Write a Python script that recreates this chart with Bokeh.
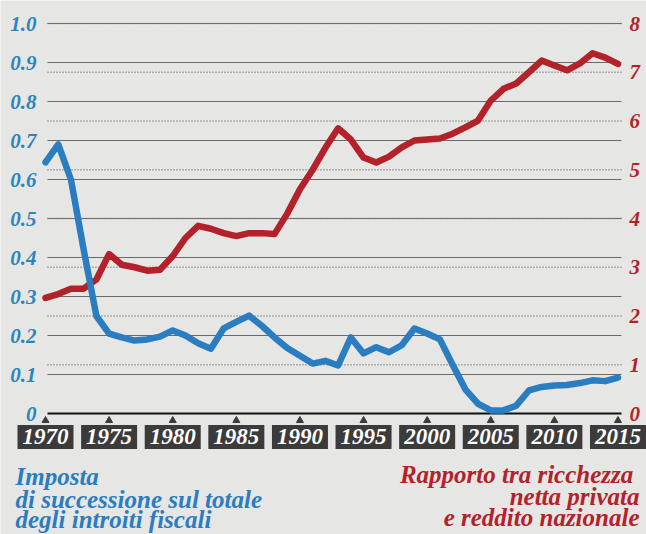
from bokeh.plotting import figure
from bokeh.models import Range1d, LinearAxis, FixedTicker, Label
from bokeh.embed import file_html
from bokeh.resources import INLINE

# ---------------- data ----------------
years = list(range(1970, 2016))
inheritance_tax_share = [
    0.644, 0.69, 0.60, 0.42, 0.25, 0.205, 0.195, 0.187, 0.19, 0.197,
    0.213, 0.20, 0.18, 0.166, 0.218, 0.235, 0.251, 0.225, 0.195, 0.168,
    0.148, 0.128, 0.135, 0.123, 0.195, 0.154, 0.17, 0.157, 0.175, 0.218,
    0.205, 0.19, 0.125, 0.062, 0.025, 0.008, 0.008, 0.02, 0.059, 0.068,
    0.072, 0.073, 0.078, 0.085, 0.083, 0.092,
]
wealth_income_ratio = [
    2.37, 2.45, 2.56, 2.56, 2.75, 3.27, 3.05, 3.0, 2.93, 2.95,
    3.23, 3.6, 3.85, 3.79, 3.7, 3.64, 3.7, 3.7, 3.68, 4.1,
    4.6, 5.0, 5.45, 5.85, 5.62, 5.25, 5.15, 5.27, 5.46, 5.6,
    5.62, 5.64, 5.74, 5.87, 6.01, 6.42, 6.66, 6.77, 7.0, 7.24,
    7.14, 7.04, 7.18, 7.39, 7.3, 7.17,
]
year_ticks = [1970, 1975, 1980, 1985, 1990, 1995, 2000, 2005, 2010, 2015]
year_tick_labels = ["1970", "1975", "1980", "1985", "1990", "1995", "2000", "2005", "2010", "2015"]
left_ticks = [0, 0.1, 0.2, 0.3, 0.4, 0.5, 0.6, 0.7, 0.8, 0.9, 1.0]
left_tick_labels = ["0", "0.1", "0.2", "0.3", "0.4", "0.5", "0.6", "0.7", "0.8", "0.9", "1.0"]
right_ticks = [0, 1, 2, 3, 4, 5, 6, 7, 8]
right_tick_labels = ["0", "1", "2", "3", "4", "5", "6", "7", "8"]
blue_caption = ["Imposta", "di successione sul totale", "degli introiti fiscali"]
red_caption = ["Rapporto tra  ricchezza", "netta privata", "e reddito nazionale"]

# ---------------- style / layout ----------------
BG = "#e6e6e4"
BLUE = "#2a7dc0"
BLUE_TXT = "#2a85bf"
RED = "#b3222a"
BOX = "#3b3b3b"
FONT = "Liberation Serif"

W, H = 646, 534
PX_PER_YEAR = 12.722          # horizontal scale
X_FIRST_PX = 45               # pixel of first year inside the frame
ZERO_PX_FROM_TOP = 413        # pixel row of value 0
LEFT_PX_PER_UNIT = 390.0
RIGHT_PX_PER_UNIT = 48.75


def px_to_year(px):
    return years[0] + (px - X_FIRST_PX) / PX_PER_YEAR


x_range = Range1d(px_to_year(0), px_to_year(W))
y_range = Range1d(-(H - ZERO_PX_FROM_TOP) / LEFT_PX_PER_UNIT, ZERO_PX_FROM_TOP / LEFT_PX_PER_UNIT)
right_range = Range1d(-(H - ZERO_PX_FROM_TOP) / RIGHT_PX_PER_UNIT, ZERO_PX_FROM_TOP / RIGHT_PX_PER_UNIT)

p = figure(
    width=W, height=H, output_backend="svg", toolbar_location=None,
    x_range=x_range, y_range=y_range,
    x_axis_location=None, y_axis_location=None,
    min_border=0, min_border_left=0, min_border_right=0, min_border_top=0, min_border_bottom=0,
    background_fill_color=BG, border_fill_color=BG, outline_line_color=None,
)
p.extra_y_ranges = {"right": right_range}
p.xgrid.visible = False
p.ygrid.visible = False

GRID_X0 = px_to_year(47)
GRID_X1 = px_to_year(621)


def style_axis(a, color):
    a.axis_line_color = None
    a.major_tick_line_color = None
    a.minor_tick_line_color = None
    a.major_tick_in = 0
    a.major_tick_out = 0
    a.major_label_text_font = FONT
    a.major_label_text_font_size = "21px"
    a.major_label_text_font_style = "bold italic"
    a.major_label_text_color = color


lax = LinearAxis(ticker=FixedTicker(ticks=left_ticks), fixed_location=px_to_year(44))
lax.major_label_overrides = dict(zip(left_ticks, left_tick_labels))
lax.major_label_standoff = 8
style_axis(lax, BLUE_TXT)
p.add_layout(lax, "left")

rax = LinearAxis(y_range_name="right", ticker=FixedTicker(ticks=right_ticks),
                 fixed_location=px_to_year(621))
rax.major_label_overrides = dict(zip(right_ticks, right_tick_labels))
rax.major_label_standoff = 8
style_axis(rax, RED)
p.add_layout(rax, "right")

# grid lines (solid for left scale, dotted for right scale, black zero line)
solid = left_ticks[1:]
p.segment(x0=[GRID_X0] * len(solid), y0=solid, x1=[GRID_X1] * len(solid), y1=solid,
          line_color="#6a6a6a", line_width=1.2)
dots = right_ticks[1:]
p.segment(x0=[GRID_X0] * len(dots), y0=dots, x1=[GRID_X1] * len(dots), y1=dots,
          y_range_name="right", line_color="#777777", line_width=1.5, line_dash="1 2")
p.segment(x0=[GRID_X0], y0=left_ticks[:1], x1=[GRID_X1], y1=left_ticks[:1],
          line_color="#111111", line_width=2.2)

# lines
p.line(years, wealth_income_ratio, y_range_name="right", line_color=RED, line_width=6.5,
       line_join="round", line_cap="round")
p.line(years, inheritance_tax_share, line_color=BLUE, line_width=6.5,
       line_join="round", line_cap="round")

# year boxes
p.scatter(year_ticks, [-7 / LEFT_PX_PER_UNIT] * len(year_ticks), marker="triangle", size=7,
          fill_color=BOX, line_color=BOX)
for yr, lab in zip(year_ticks, year_tick_labels):
    p.add_layout(Label(
        x=yr, y=H - 436.5, x_units="data", y_units="screen", text=lab,
        text_align="center", text_baseline="middle",
        text_font=FONT, text_font_size="23px", text_font_style="bold italic",
        text_color="white", background_fill_color=BOX,
        padding=dict(left=5, right=5, top=4, bottom=5),
    ))

# captions
for txt, yy in zip(blue_caption, [58, 35, 15]):
    p.add_layout(Label(
        x=15, y=yy, x_units="screen", y_units="screen", text=txt,
        text_align="left", text_baseline="alphabetic",
        text_font=FONT, text_font_size="25px", text_font_style="bold italic",
        text_color=BLUE,
    ))
for txt, yy in zip(red_caption, [60, 38, 17]):
    p.add_layout(Label(
        x=639, y=yy, x_units="screen", y_units="screen", text=txt,
        text_align="right", text_baseline="alphabetic",
        text_font=FONT, text_font_size="25px", text_font_style="bold italic",
        text_color=RED,
    ))

open("out.html", "w").write(file_html(p, INLINE))
